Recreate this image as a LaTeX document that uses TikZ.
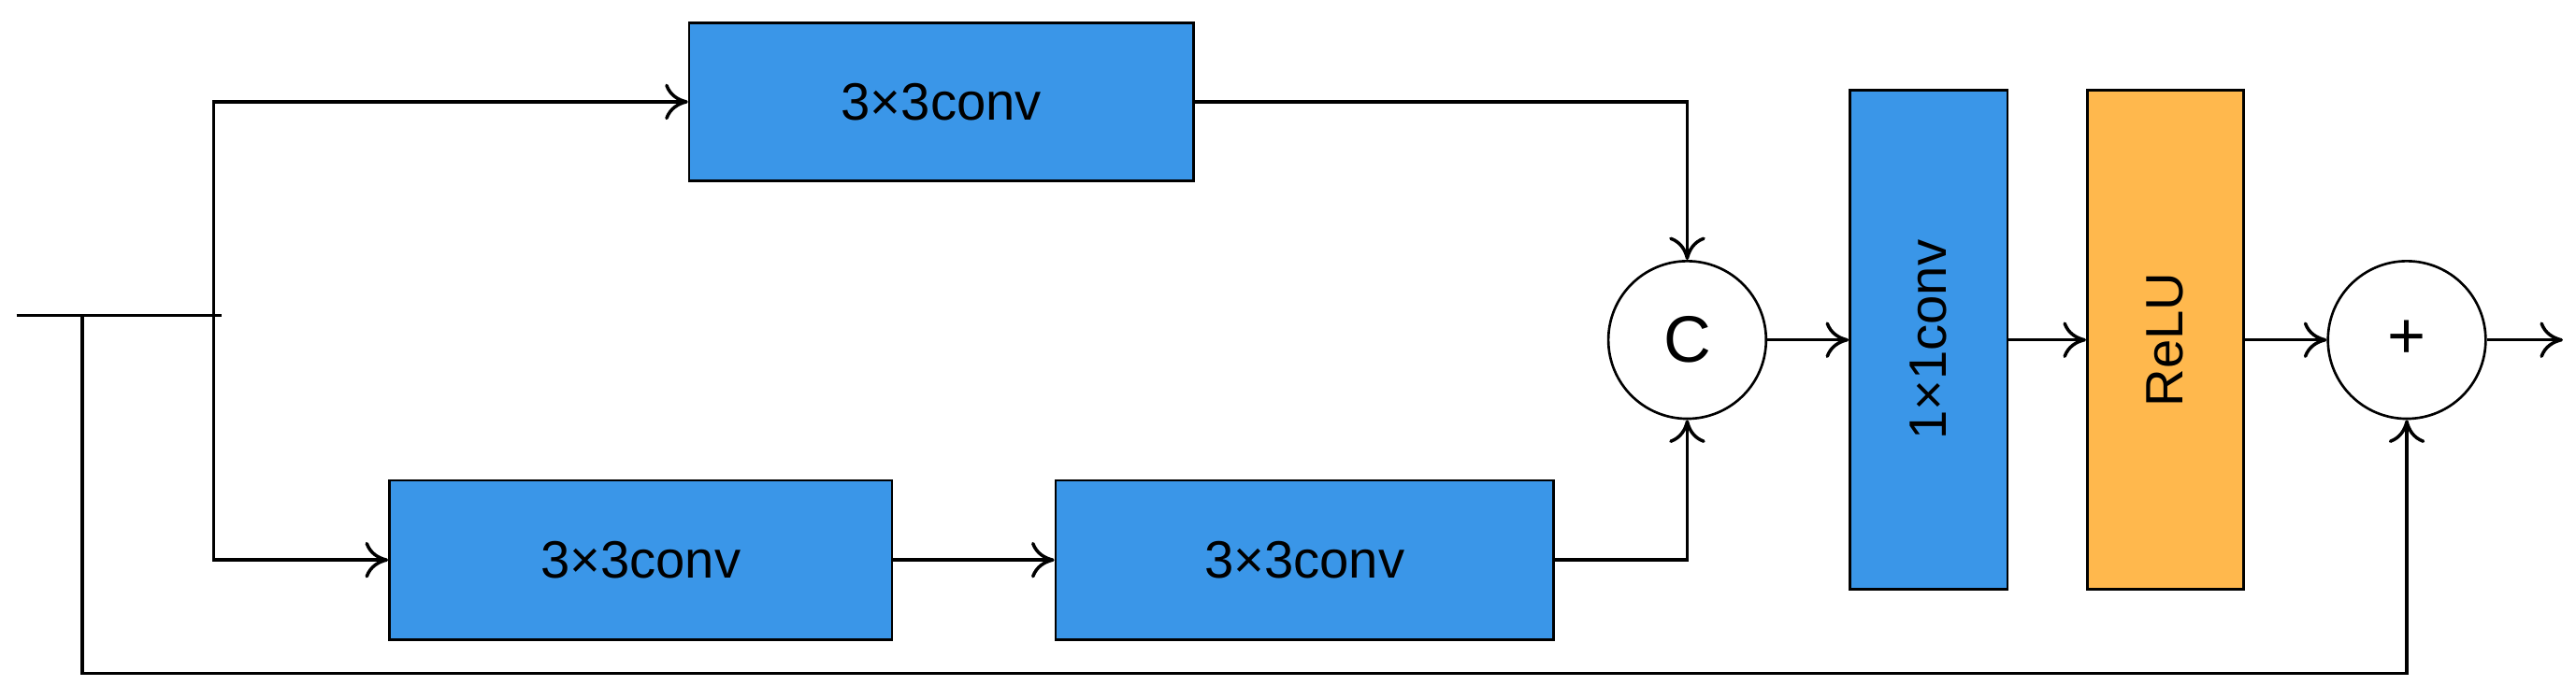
\documentclass[tikz,border=0pt]{standalone}
\usepackage{fontspec}
\setmainfont{Liberation Sans}
\usetikzlibrary{arrows.meta}
\definecolor{convblue}{RGB}{58,150,232}
\definecolor{reluorange}{RGB}{255,184,77}
\begin{document}
\begin{tikzpicture}[x=1pt,y=-1pt,line width=2pt,
  >={To[length=14pt,width=22pt,line width=2pt]},
  box/.style={draw,line width=1.5pt,fill=convblue,inner sep=0pt,font=\fontsize{32}{38}\selectfont},
  op/.style={draw,circle,line width=1.5pt,fill=white,minimum size=96pt,inner sep=0pt,font=\fontsize{40}{46}\selectfont}]
\useasboundingbox (0,0) rectangle (1568,426);

% Boxes
\node[box,minimum width=307pt,minimum height=96pt] (top) at (573,62) {3×3conv};
\node[box,minimum width=306pt,minimum height=97pt] (bot1) at (390,341) {3×3conv};
\node[box,minimum width=303pt,minimum height=97pt] (bot2) at (794,341) {3×3conv};
\node[op] (cat) at (1027,207) {C};
\node[box,minimum width=304pt,minimum height=96pt,rotate=90] (conv1) at (1174,207) {1×1conv};
\node[box,fill=reluorange,minimum width=304pt,minimum height=95pt,rotate=90] (relu) at (1318,207) {ReLU};
\node[op] (add) at (1465,207) {+};

% Coordinates
\coordinate (in) at (10,192);
\coordinate (split) at (135,192);
\coordinate (out) at (1560,207);

% Connectors
\draw (in) -- (split);
\draw[->] (130,192) |- (top.west);
\draw[->] (130,192) |- (bot1.west);
\draw[->] (bot1.east) -- (bot2.west);
\draw[->] (top.east) -| (cat.north);
\draw[->] (bot2.east) -| (cat.south);
\draw[->] (cat.east) -- (conv1.north);
\draw[->] (conv1.south) -- (relu.north);
\draw[->] (relu.south) -- (add.west);
\draw[->] (add.east) -- (out);
\draw[->] (50,192) -- (50,410) -| (add.south);
\end{tikzpicture}
\end{document}
